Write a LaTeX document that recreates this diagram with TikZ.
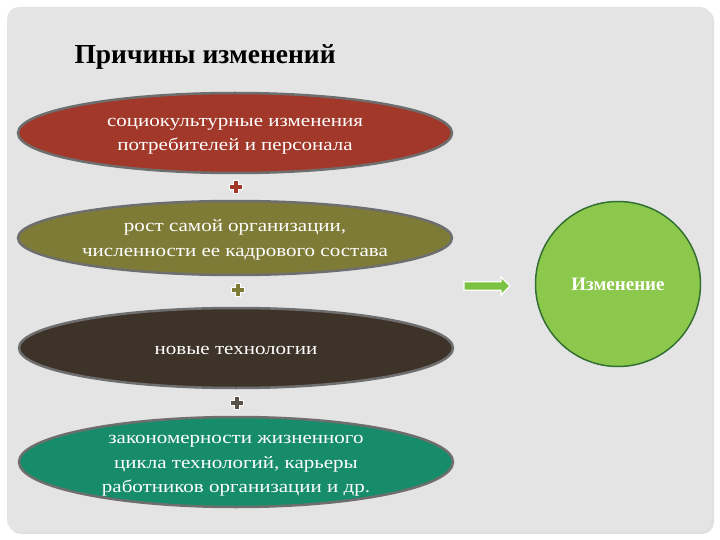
\documentclass[tikz,border=0pt]{standalone}
\usepackage{fontspec}
\setmainfont{Liberation Serif}
\newfontfamily\ovalfont{Liberation Serif}[FakeStretch=1.2]
\usetikzlibrary{shapes.geometric,shapes.arrows,calc}
\definecolor{panel}{HTML}{E4E4E4}
\definecolor{cred}{HTML}{A1382A}
\definecolor{colive}{HTML}{7E7B37}
\definecolor{cbrown}{HTML}{3D3329}
\definecolor{cteal}{HTML}{168C6B}
\definecolor{clime}{HTML}{8CC84C}
\definecolor{carrow}{HTML}{7CC242}
\definecolor{edge}{HTML}{6E6E6E}
\tikzset{
  oval/.style={ellipse, draw=edge, line width=2.5pt, minimum width=434pt, minimum height=78pt, inner sep=0pt},
  ovaltext/.style={inner sep=0pt, text=white, font=\ovalfont\fontsize{17.5}{24.5}\selectfont, align=center},
}
\newcommand{\plusat}[3]{%
  \fill[#3, draw=white, line width=1pt] ($(#1,#2)+(-2.5,-6.5)$) -- ++(5,0) -- ++(0,4) -- ++(4,0) -- ++(0,5) -- ++(-4,0) -- ++(0,4) -- ++(-5,0) -- ++(0,-4) -- ++(-4,0) -- ++(0,-5) -- ++(4,0) -- cycle;}
\begin{document}
\begin{tikzpicture}[x=1pt,y=-1pt]
\useasboundingbox (0,0) rectangle (720,540);
\fill[white] (0,0) rectangle (720,540);
\fill[black!12, rounded corners=12pt] (9,9) rectangle (714,534);
\fill[panel, rounded corners=12pt] (7,7) rectangle (712,532);
\node[anchor=base west, font=\bfseries\fontsize{27.5}{30}\selectfont] (title) at (71,64) {Причины изменений};
\node[oval, fill=cred, minimum height=80pt] (e1) at (235,133) {};
\node[ovaltext] (t1) at ($(e1.center)+(0,3)$) {социокультурные изменения\\потребителей и персонала};
\node[oval, fill=colive, minimum height=74pt] (e2) at (235,238) {};
\node[ovaltext] (t2) at ($(e2.center)+(0,2)$) {рост самой организации,\\численности ее кадрового состава};
\node[oval, fill=cbrown, minimum height=80pt] (e3) at (236,348) {};
\node[ovaltext] (t3) at ($(e3.center)+(0,2)$) {новые технологии};
\node[oval, fill=cteal, minimum height=90pt] (e4) at (236,462) {};
\node[ovaltext] (t4) at ($(e4.center)+(0,4)$) {закономерности жизненного\\цикла технологий, карьеры\\работников организации и др.};
\plusat{236}{187}{cred}
\plusat{238}{290}{colive}
\plusat{237}{403}{cbrown!85!white}
\node[single arrow, fill=carrow, draw=white, line width=1.2pt, minimum height=46pt, minimum width=18pt,
  single arrow head extend=3pt, single arrow tip angle=90, inner sep=2pt] (arr) at (485,286) {};
\node[circle, fill=clime, draw=black!60!green!60!gray, line width=1.5pt, minimum size=165pt, inner sep=0pt,
  text=white, font=\bfseries\fontsize{19}{22}\selectfont] (chg) at (618,284) {Изменение};
\end{tikzpicture}
\end{document}
